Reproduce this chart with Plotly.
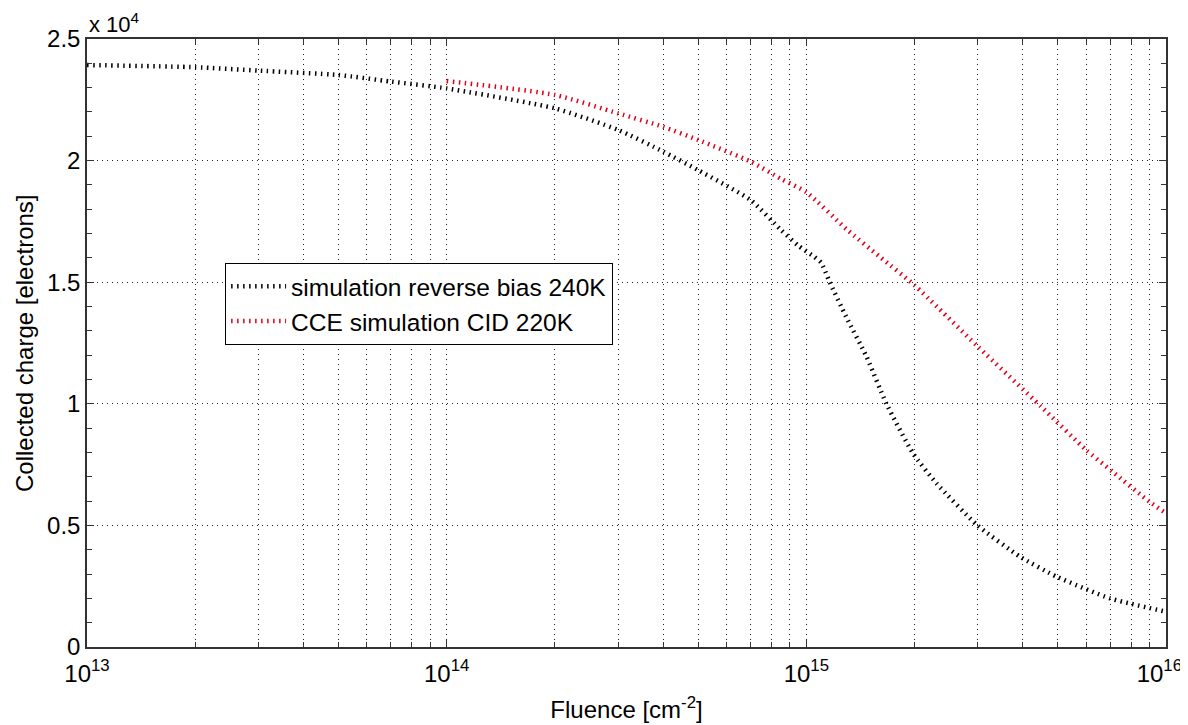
import plotly.graph_objects as go

# Data
fluence_black = [1e13, 2e13, 3e13, 5e13, 7e13, 1e14, 2e14, 3e14, 4e14, 5e14, 7e14,
                 8.5e14, 9.5e14, 1.05e15, 1.1e15, 1.16e15, 1.29e15, 1.47e15, 1.67e15,
                 1.98e15, 2.3e15, 2.98e15, 3.93e15, 4.97e15, 6.98e15, 1e16]
charge_black = [23930, 23840, 23700, 23520, 23250, 22970, 22150, 21260, 20370, 19610, 18380,
                17150, 16500, 16050, 15800, 15020, 13580, 11940, 10000,
                7960, 6730, 5020, 3710, 2890, 2000, 1450]

fluence_red = [1e14, 2e14, 3e14, 4e14, 5e14, 7e14, 8.5e14, 1e15, 1.3e15, 1.6e15,
               2e15, 3e15, 4.5e15, 6e15, 7.1e15, 9e15, 1e16]
charge_red = [23270, 22700, 21940, 21390, 20850, 19960, 19250, 18700, 17150, 16050,
              14870, 12350, 9880, 8100, 7210, 5970, 5500]

x_tickvals = [1e13, 1e14, 1e15, 1e16]
x_ticktext = ["10<sup>13</sup>", "10<sup>14</sup>", "10<sup>15</sup>",
              "10<sup>16</sup>&nbsp;&nbsp;"]
x_minor = [m * 10.0 ** e for e in (13, 14, 15) for m in range(2, 10)]

y_tickvals = [0, 5000, 10000, 15000, 20000, 25000]
y_ticktext = ["0", "0.5", "1", "1.5", "2", "2.5"]
y_minor = list(range(0, 25001, 1000))

FONT = "Liberation Sans, Arial, Helvetica, sans-serif"
DOT = "1.5px,4.5px"

fig = go.Figure()
fig.add_trace(go.Scatter(
    x=fluence_black, y=charge_black, mode="lines",
    name="simulation reverse bias 240K",
    line=dict(color="#000000", width=4.5, dash=DOT, shape="spline", smoothing=0.5),
))
fig.add_trace(go.Scatter(
    x=fluence_red, y=charge_red, mode="lines",
    name="CCE simulation CID 220K",
    line=dict(color="#e0001b", width=4.5, dash=DOT, shape="spline", smoothing=0.6),
))

axis_common = dict(
    showline=True, linecolor="#333333", linewidth=1.5, mirror="allticks",
    ticks="inside", tickcolor="#333333", ticklen=7, tickwidth=1.2,
    showgrid=True, gridcolor="#222222", gridwidth=1, griddash="1px,4px",
    zeroline=False, automargin=False,
    tickfont=dict(family=FONT, size=24, color="#000"),
)

fig.update_xaxes(
    type="log", range=[13, 16.00002], tickmode="array",
    tickvals=x_tickvals, ticktext=x_ticktext, ticklabeloverflow="allow",
    ticklabelstandoff=4,
    minor=dict(tickmode="array", tickvals=x_minor, ticks="inside", ticklen=5,
               tickcolor="#333333", showgrid=True, gridcolor="#222222",
               griddash="1px,4px", gridwidth=1),
    title=dict(text="Fluence [cm<sup>-2</sup>]", font=dict(family=FONT, size=24, color="#000"),
               standoff=16),
    **axis_common,
)
fig.update_yaxes(
    range=[0, 25000], tickmode="array",
    tickvals=y_tickvals, ticktext=y_ticktext,
    minor=dict(tickmode="array", tickvals=y_minor, ticks="inside", ticklen=5,
               tickcolor="#333333", showgrid=False),
    **axis_common,
)

# y-axis title placed as a rotated annotation so it sits as far left as the reference
fig.add_annotation(
    xref="paper", yref="paper", x=0, y=0.5, xanchor="center", yanchor="middle",
    xshift=-63, textangle=-90, showarrow=False,
    text="Collected charge [electrons]",
    font=dict(family=FONT, size=24, color="#000"),
)

fig.add_annotation(
    xref="paper", yref="paper", x=0, y=1, xanchor="left", yanchor="bottom",
    text="x 10<sup>4</sup>", showarrow=False, yshift=0,
    font=dict(family=FONT, size=22, color="#000"),
)

# The page body adds an 8px offset, so the figure is sized to fit the window.
fig.update_layout(
    width=1180, height=717,
    margin=dict(l=79, r=22, t=31, b=78),
    paper_bgcolor="white", plot_bgcolor="white",
    font=dict(family=FONT, size=24, color="#000"),
    showlegend=True,
    legend=dict(
        x=0.128, y=0.632, xanchor="left", yanchor="top",
        bgcolor="white", bordercolor="#000", borderwidth=1,
        font=dict(family=FONT, size=24.5, color="#000"),
        itemwidth=55, tracegroupgap=0,
    ),
)

fig.write_html("out.html")
